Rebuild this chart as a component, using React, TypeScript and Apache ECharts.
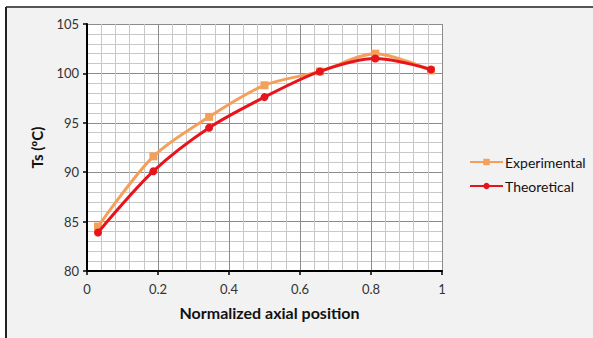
import React, { useEffect, useRef } from "react";
import * as echarts from "echarts";

const positions = [0.031, 0.187, 0.344, 0.5, 0.656, 0.812, 0.969];
const experimental = [84.5, 91.6, 95.6, 98.8, 100.2, 102.0, 100.3];
const theoretical = [83.9, 90.1, 94.5, 97.6, 100.2, 101.5, 100.4];
const xTitle = "Normalized axial position";
const yTitle = "Ts (ºC)";

export default function App() {
  const ref = useRef<HTMLDivElement>(null);
  useEffect(() => {
    if (!ref.current) return;
    const chart = echarts.init(ref.current, null, { renderer: "svg" });
    const font = "Lato, Liberation Sans, Arial, sans-serif";
    chart.setOption({
      animation: false,
      backgroundColor: "#f2f2f2",
      textStyle: { fontFamily: font },
      grid: {
        left: 87,
        right: 151,
        top: 24,
        bottom: 67,
        show: true,
        backgroundColor: "#ffffff",
        borderWidth: 0,
      },
      legend: {
        orient: "vertical",
        left: 464,
        top: 150,
        itemGap: 10,
        itemWidth: 33,
        itemHeight: 8,
        textStyle: { fontSize: 14, color: "#111", fontFamily: font, padding: [0, 0, 0, -3] },
        data: ["Experimental", "Theoretical"],
      },
      xAxis: {
        type: "value",
        min: 0,
        max: 1,
        interval: 0.2,
        name: xTitle,
        nameLocation: "middle",
        nameGap: 33,
        nameTextStyle: { fontWeight: "bold", fontSize: 16, color: "#111", padding: [0, 0, 0, 10] },
        axisLine: { show: true, onZero: false, lineStyle: { color: "#000", width: 2 } },
        axisTick: { show: true, length: 4, lineStyle: { color: "#000", width: 1.5 } },
        axisLabel: { fontSize: 13, color: "#333", margin: 11, formatter: (v: number) => String(Math.round(v * 10) / 10) },
        splitLine: { show: true, lineStyle: { color: "#8c8c8c", width: 1 } },
        minorTick: { show: true, splitNumber: 5, length: 0 },
        minorSplitLine: { show: true, lineStyle: { color: "#c8c8c8", width: 1 } },
      },
      yAxis: {
        type: "value",
        min: 80,
        max: 105,
        interval: 5,
        name: yTitle,
        nameLocation: "middle",
        nameGap: 43,
        nameRotate: 90,
        nameTextStyle: { fontWeight: "bold", fontSize: 15, color: "#111" },
        axisLine: { show: true, lineStyle: { color: "#000", width: 2 } },
        axisTick: { show: true, length: 4, lineStyle: { color: "#000", width: 1.5 } },
        axisLabel: { fontSize: 13, color: "#333", margin: 8 },
        splitLine: { show: true, lineStyle: { color: "#8c8c8c", width: 1 } },
        minorTick: { show: true, splitNumber: 5, length: 0 },
        minorSplitLine: { show: true, lineStyle: { color: "#c8c8c8", width: 1 } },
      },
      series: [
        {
          name: "Experimental",
          type: "line",
          smooth: 0.3,
          data: positions.map((x, i) => [x, experimental[i]]),
          symbol: "rect",
          symbolSize: 8,
          lineStyle: { color: "#f5a05a", width: 3 },
          itemStyle: { color: "#f5a05a" },
          z: 2,
        },
        {
          name: "Theoretical",
          type: "line",
          smooth: 0.3,
          data: positions.map((x, i) => [x, theoretical[i]]),
          symbol: "circle",
          symbolSize: 8,
          lineStyle: { color: "#e8141b", width: 3 },
          itemStyle: { color: "#e8141b" },
          z: 3,
        },
      ],
      graphic: [
        { type: "line", shape: { x1: 6, y1: 7, x2: 593, y2: 7 }, style: { stroke: "#555", lineWidth: 2 } },
        { type: "line", shape: { x1: 6, y1: 7, x2: 6, y2: 338 }, style: { stroke: "#222", lineWidth: 2 } },
        { type: "rect", shape: { x: 0, y: 0, width: 593, height: 6 }, style: { fill: "#ffffff" } },
        { type: "rect", shape: { x: 0, y: 0, width: 5, height: 338 }, style: { fill: "#ffffff" } },
      ],
    });
    return () => chart.dispose();
  }, []);
  return <div ref={ref} style={{ position: "fixed", left: 0, top: 0, width: 593, height: 338 }} />;
}
